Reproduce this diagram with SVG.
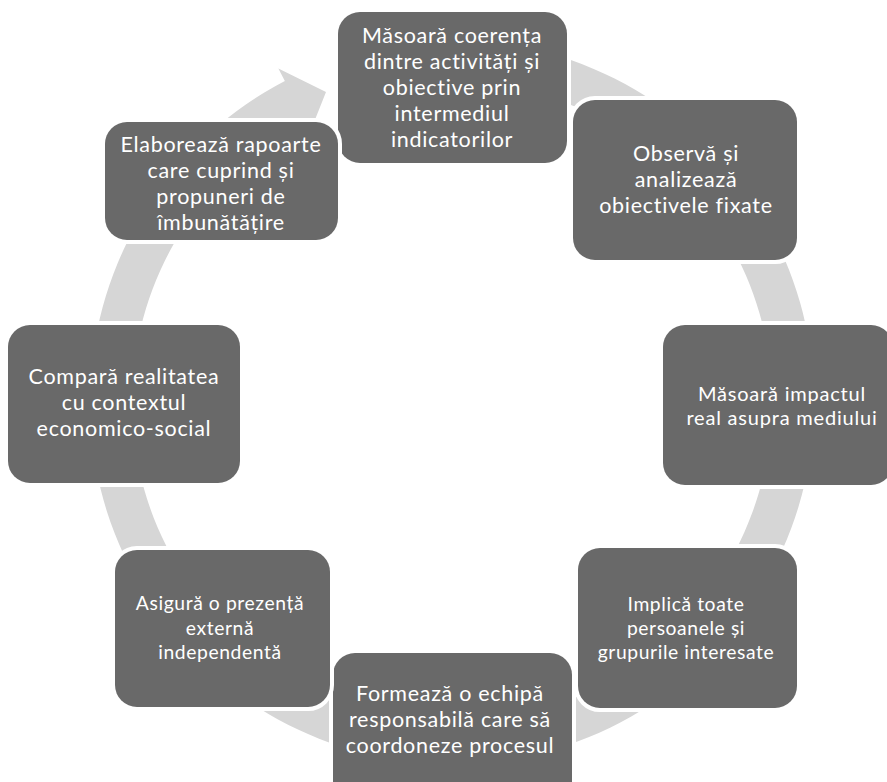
<svg xmlns="http://www.w3.org/2000/svg" width="887" height="782" viewBox="0 0 887 782">
<style>
.ring{fill:#d6d6d6;stroke:none}
.box{fill:#696969;stroke:#ffffff;stroke-width:8;paint-order:stroke}
.t{font-family:Lato,"Open Sans",sans-serif;fill:#ffffff;text-anchor:middle;font-size:21.5px;letter-spacing:0.7px;font-variant-ligatures:none}
.s{font-size:19.3px;letter-spacing:0.6px}
.m{font-size:20px;letter-spacing:0.8px}
</style>
<rect width="887" height="782" fill="#ffffff"/>
<g id="connectors">
<path class="ring" d="M346.16,55.82 A362,362 0 1 1 284.85,80.90 L278.38,68.48 L326,92 L310.70,130.57 L304.24,118.16 A320,320 0 1 0 358.44,95.98 Z"/>
</g>
<g id="node1">
<rect class="box" x="338" y="12" width="229" height="151" rx="22"/>
<text class="t" x="452" y="43">Măsoară coerența</text>
<text class="t" x="452" y="69">dintre activități și</text>
<text class="t" x="452" y="95">obiective prin</text>
<text class="t" x="452" y="121">intermediul</text>
<text class="t" x="452" y="147">indicatorilor</text>
</g>
<g id="node2">
<rect class="box" x="573" y="100" width="224" height="160" rx="22"/>
<text class="t" x="686" y="161">Observă și</text>
<text class="t" x="686" y="187">analizează</text>
<text class="t" x="686" y="213">obiectivele fixate</text>
</g>
<g id="node3">
<rect class="box" x="663" y="325" width="230" height="160" rx="22"/>
<text class="t m" x="782" y="401">Măsoară impactul</text>
<text class="t m" x="782" y="425">real asupra mediului</text>
</g>
<g id="node4">
<rect class="box" x="578" y="548" width="219" height="160" rx="22"/>
<text class="t s" x="686" y="611">Implică toate</text>
<text class="t s" x="686" y="635">persoanele și</text>
<text class="t s" x="686" y="659">grupurile interesate</text>
</g>
<g id="node5">
<rect class="box" x="333" y="653" width="239" height="160" rx="22"/>
<text class="t" x="450" y="701">Formează o echipă</text>
<text class="t" x="450" y="727">responsabilă care să</text>
<text class="t" x="450" y="753">coordoneze procesul</text>
</g>
<g id="node6">
<rect class="box" x="115" y="550" width="215" height="157" rx="22"/>
<text class="t s" x="220" y="610">Asigură o prezență</text>
<text class="t s" x="220" y="635">externă</text>
<text class="t s" x="220" y="659">independentă</text>
</g>
<g id="node7">
<rect class="box" x="8" y="325" width="232" height="158" rx="22"/>
<text class="t" x="124" y="384">Compară realitatea</text>
<text class="t" x="124" y="410">cu contextul</text>
<text class="t" x="124" y="436">economico-social</text>
</g>
<g id="node8">
<rect class="box" x="105" y="122" width="233" height="118" rx="22"/>
<text class="t" x="221" y="152">Elaborează rapoarte</text>
<text class="t" x="221" y="178">care cuprind și</text>
<text class="t" x="221" y="204">propuneri de</text>
<text class="t" x="221" y="230">îmbunătățire</text>
</g>
</svg>
